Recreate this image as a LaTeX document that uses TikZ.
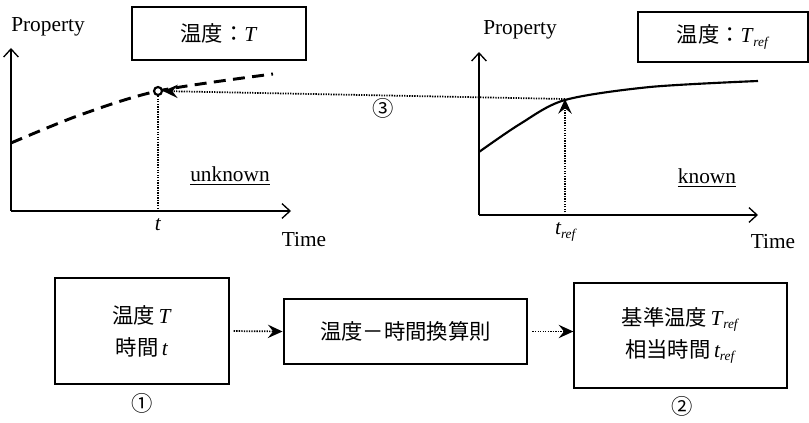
\documentclass[tikz,border=0pt]{standalone}
\usepackage{fontspec}
\setmainfont{Liberation Serif}
\newfontfamily\cjk{Noto Sans CJK JP}
\usetikzlibrary{arrows.meta}
\newcommand\myTref{\textit{T}\kern-0.02em\raisebox{-0.35ex}{\fontsize{10}{10}\selectfont\textit{ref}}}
\newcommand\mytref{\textit{t}\kern-0.02em\raisebox{-0.35ex}{\fontsize{10}{10}\selectfont\textit{ref}}}
\tikzset{
  axis/.style={line width=1.1pt, -{Straight Barb[length=6pt,width=11pt,line width=1pt]}},
  lbl/.style={inner sep=0pt, font=\fontsize{16}{19}\selectfont},
  frame/.style={draw, line width=1pt, inner sep=0pt, align=center, font=\fontsize{16}{24}\selectfont},
  dotline/.style={line width=1.3pt, dash pattern=on 1pt off 0.9pt},
  dotarrow/.style={dotline, -{Stealth[length=11pt,width=10pt,inset=4pt]}},
  curve/.style={line width=1.6pt},
  dcurve/.style={line width=2.2pt, dash pattern=on 9pt off 5.5pt}
}
\begin{document}
\begin{tikzpicture}[x=0.75pt,y=-0.75pt]
\useasboundingbox (0,0) rectangle (809,423);
% ---------- left plot ----------
\coordinate (LO) at (11,211);
\coordinate (LY) at (11,48);
\coordinate (LX) at (291,211);
\draw[axis] (LO) -- (LY);
\draw[axis] (LO) -- (LX);
\node[lbl] (Lprop) at (48,27) {Property};
\node[frame, minimum width=130.5pt, minimum height=39.75pt] (LT) at (219,33.5) {{\cjk 温度：}\textit{T}};
\draw[dcurve] plot[smooth] coordinates {(11,143) (80,115) (158,91) (273,74)};
\node[circle, draw, line width=1.6pt, inner sep=0pt, minimum size=6pt, fill=white] (Lpt) at (158,91) {};
\coordinate (Lt) at (158,211);
\draw[dotline] (Lpt) -- (Lt);
\node[lbl] (tlab) at (158,225) {\textit{t}};
\node[lbl] (LTime) at (304,240) {Time};
\node[lbl] (unk) at (230,176) {\underline{unknown}};
% ---------- right plot ----------
\coordinate (RO) at (479,215);
\coordinate (RY) at (479,52);
\coordinate (RX) at (758,215);
\draw[axis] (RO) -- (RY);
\draw[axis] (RO) -- (RX);
\node[lbl] (Rprop) at (520,30) {Property};
\node[frame, minimum width=127.5pt, minimum height=37.5pt] (RT) at (723,37) {{\cjk 温度：}\myTref};
\draw[curve] plot[smooth] coordinates {(479,152) (520,124) (565,100) (650,87) (758,81)};
\coordinate (Rpt) at (565,99);
\coordinate (Rt) at (565,215);
\draw[dotarrow] (Rt) -- (Rpt);
\node[lbl] (treflab) at (566,232) {\mytref};
\node[lbl] (RTime) at (773,242) {Time};
\node[lbl] (kn) at (707,178) {\underline{known}};
% ---------- link between plots ----------
\draw[dotarrow] (Rpt) -- (Lpt);
\node[lbl] (c3) at (383,108) {\cjk ③};
% ---------- bottom flow ----------
\node[frame, minimum width=130.5pt, minimum height=79.5pt] (b1) at (142,331)
  {{\cjk 温度}\,\textit{T}\\{\cjk 時間}\,\textit{t}};
\node[frame, line width=2.2pt, minimum width=182.25pt, minimum height=48.75pt] (b2) at (405.5,331.5)
  {\cjk 温度－時間換算則};
\node[frame, minimum width=159.75pt, minimum height=78.75pt] (b3) at (680.5,335.5)
  {{\cjk 基準温度}\,\myTref\\{\cjk 相当時間}\,\mytref};
\draw[dotarrow, shorten <=3pt] (b1.east) -- (b2.west);
\draw[dotarrow, shorten <=3pt] (b2.east) -- (b2.east -| b3.west);
\node[lbl] (c1) at (142,403) {\cjk ①};
\node[lbl] (c2) at (682,406) {\cjk ②};
\end{tikzpicture}
\end{document}
